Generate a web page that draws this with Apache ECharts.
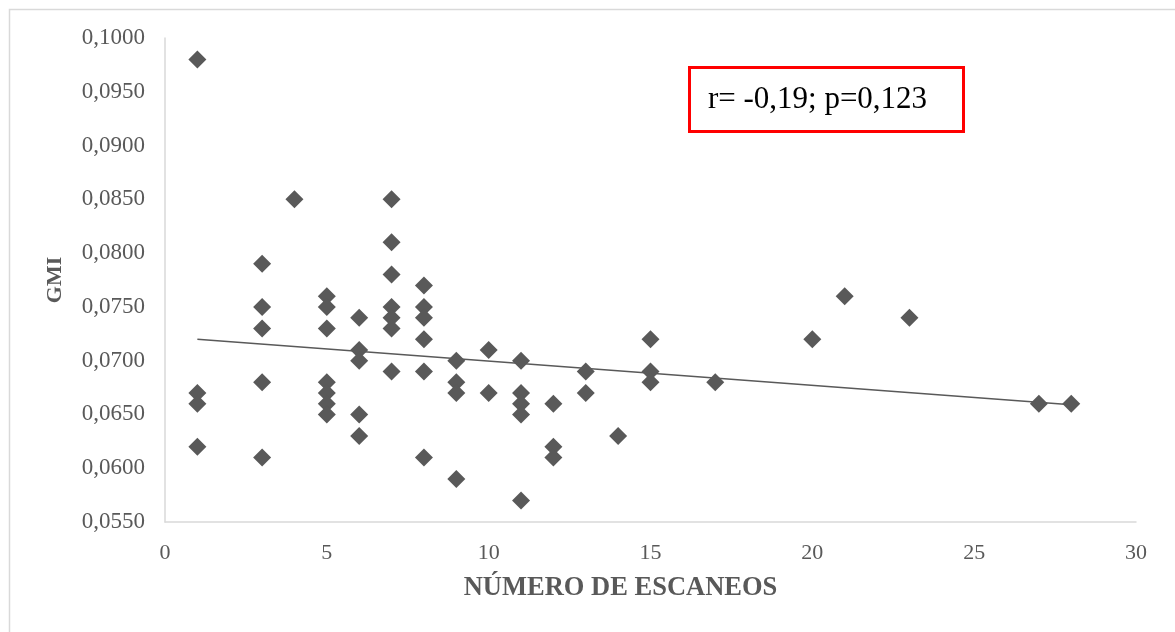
<!DOCTYPE html>
<html><head><meta charset="utf-8">
<script src="https://cdn.jsdelivr.net/npm/echarts@6/dist/echarts.min.js"></script>
<style>html,body{margin:0;padding:0;background:#fff}#c{width:1175px;height:632px}</style>
</head><body><div id="c"></div>
<script>
const scans = [1,1,1,1, 3,3,3,3,3, 4, 5,5,5,5,5,5,5, 6,6,6,6,6, 7,7,7,7,7,7,7, 8,8,8,8,8,8, 9,9,9,9, 10,10, 11,11,11,11,11, 12,12,12, 13,13, 14, 15,15,15, 17, 20, 21, 23, 27, 28];
const gmi = [0.0980,0.0670,0.0660,0.0620, 0.0790,0.0750,0.0730,0.0680,0.0610, 0.0850, 0.0760,0.0750,0.0730,0.0680,0.0670,0.0660,0.0650, 0.0740,0.0710,0.0700,0.0650,0.0630, 0.0850,0.0810,0.0780,0.0750,0.0740,0.0730,0.0690, 0.0770,0.0750,0.0740,0.0720,0.0690,0.0610, 0.0700,0.0680,0.0670,0.0590, 0.0710,0.0670, 0.0700,0.0670,0.0660,0.0650,0.0570, 0.0660,0.0620,0.0610, 0.0690,0.0670, 0.0630, 0.0720,0.0690,0.0680, 0.0680, 0.0720, 0.0760, 0.0740, 0.0660, 0.0660];
const trendX = [1, 28];
const trendY = [0.0720, 0.0659];
const annotation = 'r= -0,19; p=0,123';
const xTitle = 'NÚMERO DE ESCANEOS';
const yTitle = 'GMI';

const chart = echarts.init(document.getElementById('c'));
const pts = scans.map((x,i)=>[x,gmi[i]]);
const line = trendX.map((x,i)=>[x,trendY[i]]);
const font = '"Liberation Serif","Times New Roman",serif';
chart.setOption({
  animation:false,
  grid:{left:165,right:39,top:38,bottom:110,containLabel:false},
  xAxis:{type:'value',min:0,max:30,interval:5,
    axisLine:{show:true,lineStyle:{color:'#d9d9d9',width:1.5}},
    axisTick:{show:false},splitLine:{show:false},
    axisLabel:{color:'#595959',fontFamily:font,fontSize:22,margin:20},
    name:xTitle,nameLocation:'middle',nameGap:53,
    nameTextStyle:{color:'#595959',fontFamily:font,fontSize:26.5,fontWeight:'bold',padding:[0,60,0,0]}},
  yAxis:{type:'value',min:0.055,max:0.1,interval:0.005,
    axisLine:{show:true,lineStyle:{color:'#d9d9d9',width:1.5}},
    axisTick:{show:false},splitLine:{show:false},
    axisLabel:{color:'#595959',fontFamily:font,fontSize:23,margin:20,
      formatter:v=>v.toFixed(4).replace('.',',')},
    name:yTitle,nameLocation:'middle',nameGap:99,nameRotate:90,
    nameTextStyle:{color:'#595959',fontFamily:font,fontSize:22,fontWeight:'bold'}},
  series:[
    {type:'line',data:line,symbol:'none',lineStyle:{color:'#595959',width:1.5},z:1},
    {type:'scatter',data:pts,symbol:'diamond',symbolSize:[18,18],itemStyle:{color:'#595959',opacity:1},z:2}
  ],
  graphic:[
    {type:'rect',left:7,top:7,shape:{width:1300,height:800},style:{fill:'none',stroke:'#d9d9d9',lineWidth:1.5},silent:true},
    {type:'group',left:688,top:66,children:[
      {type:'rect',shape:{x:0,y:0,width:274,height:64},style:{fill:'#fff',stroke:'#ff0000',lineWidth:3}},
      {type:'text',x:128,y:32,style:{text:annotation,fill:'#000',font:'31px '+font,align:'center',verticalAlign:'middle'}}
    ]}
  ]
});
</script></body></html>
